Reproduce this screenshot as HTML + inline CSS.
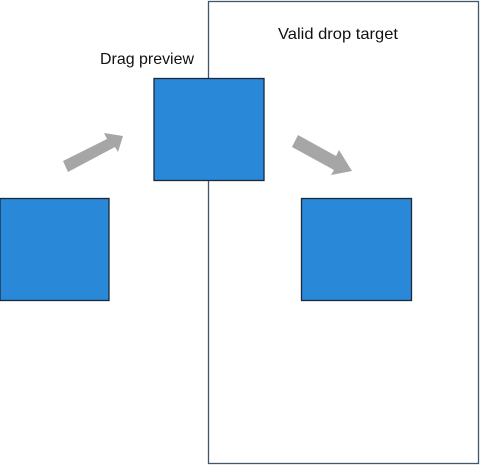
<!DOCTYPE html>
<html><head><meta charset="utf-8"><style>
html,body{margin:0;padding:0;background:#fff;width:480px;height:465px;overflow:hidden}
</style></head><body>
<svg width="480" height="465" xmlns="http://www.w3.org/2000/svg">
<rect x="208.5" y="1.5" width="270" height="462" fill="#fff" stroke="#44546a" stroke-width="1.3"/>
<text x="278" y="39" textLength="120" lengthAdjust="spacingAndGlyphs" font-family="Liberation Sans, sans-serif" font-size="16" fill="#111">Valid drop target</text>
<text x="100" y="64" textLength="94" lengthAdjust="spacingAndGlyphs" font-family="Liberation Sans, sans-serif" font-size="16" fill="#111">Drag preview</text>
<rect x="154" y="78.5" width="110" height="102" fill="#2a88d8" stroke="#1a2a3a" stroke-width="1.3"/>
<rect x="0" y="198.5" width="109" height="102" fill="#2a88d8" stroke="#1a2a3a" stroke-width="1.3"/>
<rect x="301.5" y="198.5" width="110" height="102" fill="#2a88d8" stroke="#1a2a3a" stroke-width="1.3"/>
<g fill="#a6a6a6">
<polygon points="63,161 107,139 104,133 123,136 118,152 115,147 68,172"/>
<polygon points="298,135 336,156 339,150 352,171 331,175 334,170 292,147"/>
</g>
</svg>
</body></html>
